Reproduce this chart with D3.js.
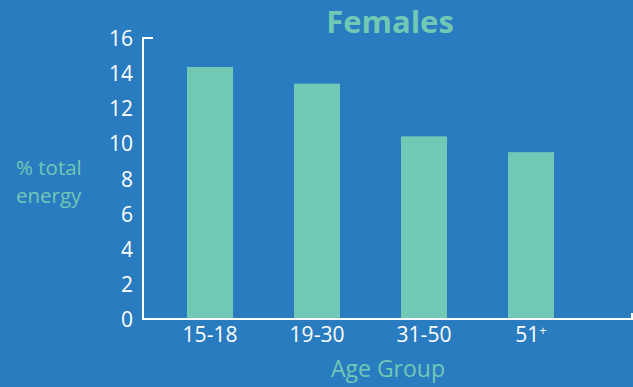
<!DOCTYPE html>
<html>
<head>
<meta charset="utf-8">
<script src="https://cdn.jsdelivr.net/npm/d3@7"></script>
<style>
  html, body { margin: 0; padding: 0; background: #2a7cc0; }
  svg { display: block; font-family: "Open Sans", Lato, sans-serif; }
</style>
</head>
<body>
<div id="chart"></div>
<script>
// Dades del gràfic
const ageGroups = ["15-18", "19-30", "31-50", "51+"];
const energyPct = [14.35, 13.4, 10.4, 9.5];
const yTicks = [0, 2, 4, 6, 8, 10, 12, 14, 16];
const yTitleLines = ["% total", "energy"];

const width = 633, height = 387;
const bg = "#2a7cc0", teal = "#70c8b5";
const fontFam = "'Open Sans', Lato, sans-serif";

const svg = d3.select("#chart").append("svg")
  .attr("width", width)
  .attr("height", height);

svg.append("rect").attr("width", width).attr("height", height).attr("fill", bg);

const y = d3.scaleLinear().domain([0, 16]).range([319, 38]);
const x = d3.scaleBand().domain(ageGroups).range([187, 554]).paddingInner(0.57).paddingOuter(0);

// Barres
svg.selectAll("rect.bar")
  .data(ageGroups)
  .join("rect")
  .attr("class", "bar")
  .attr("x", d => x(d))
  .attr("width", x.bandwidth())
  .attr("y", (d, i) => y(energyPct[i]))
  .attr("height", (d, i) => y(0) - y(energyPct[i]))
  .attr("fill", teal);

// Eix Y
const yAxis = svg.append("g")
  .attr("transform", "translate(143,0)")
  .call(d3.axisLeft(y).tickValues(yTicks).tickSize(0).tickPadding(10))
  .attr("font-family", fontFam);
yAxis.select(".domain").remove();
yAxis.selectAll("text")
  .attr("fill", "#fff")
  .style("font-size", "21px")
  .attr("dy", "0.36em");

// Línies dels eixos
svg.append("path")
  .attr("d", `M153,${y(16)}H143V${y(0)}H632V${y(0) - 6}`)
  .attr("fill", "none")
  .attr("stroke", "#fff")
  .attr("stroke-width", 2);

// Eix X
const xAxis = svg.append("g")
  .attr("transform", `translate(0,${y(0)})`)
  .call(d3.axisBottom(x).tickSize(0).tickPadding(8))
  .attr("font-family", fontFam);
xAxis.select(".domain").remove();
xAxis.selectAll("text")
  .attr("fill", "#fff")
  .style("font-size", "21px")
  .each(function (d) {
    if (d.endsWith("+")) {
      const t = d3.select(this).text(d.slice(0, -1));
      t.append("tspan").attr("dy", "-0.55em").style("font-size", "13px").text("+");
    }
  });

// Títol
svg.append("text")
  .attr("x", 390).attr("y", 33)
  .attr("text-anchor", "middle")
  .attr("fill", teal)
  .style("font-size", "31px")
  .style("font-weight", "bold")
  .text("Females");

// Etiqueta Y (dues línies)
svg.selectAll("text.ytitle")
  .data(yTitleLines)
  .join("text")
  .attr("class", "ytitle")
  .attr("x", 16)
  .attr("y", (d, i) => 175 + i * 28)
  .attr("fill", teal)
  .style("font-size", "20.5px")
  .text(d => d);

// Etiqueta X
svg.append("text")
  .attr("x", 388).attr("y", 377)
  .attr("text-anchor", "middle")
  .attr("fill", teal)
  .style("font-size", "23px")
  .text("Age Group");
</script>
</body>
</html>
